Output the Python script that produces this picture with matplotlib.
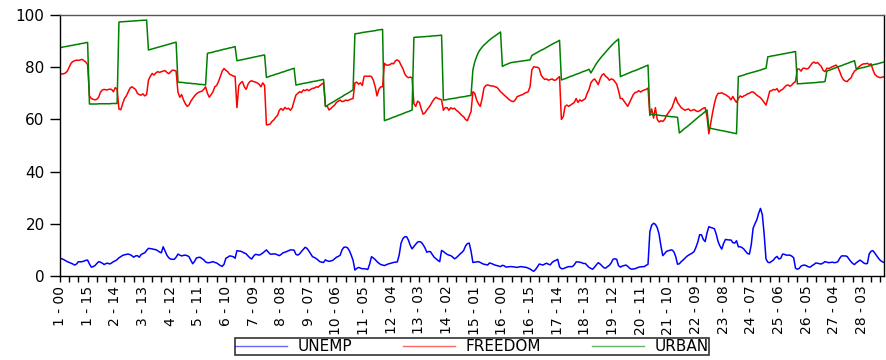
import numpy as np
import matplotlib
matplotlib.use("Agg")
from matplotlib import pyplot as plt

# panel: 28 cross sections x 16 years (00..15)
countries = list(range(1, 29))
years = ["%02d" % y for y in range(16)]

unemp = [
    [6.8, 6.6, 6.3, 5.9, 5.5, 5.2, 4.9, 4.6, 4.2, 4.6, 5.5, 5.4, 5.5, 5.7, 6.0, 6.1],
    [4.6, 3.4, 3.6, 4.0, 4.8, 5.5, 5.3, 4.9, 4.4, 4.8, 4.9, 4.6, 5.0, 5.5, 5.8, 6.3],
    [7.0, 7.4, 7.9, 8.1, 8.3, 8.4, 8.2, 7.8, 7.2, 7.7, 7.8, 7.2, 8.2, 8.6, 8.9, 9.8],
    [10.6, 10.5, 10.4, 10.2, 10.1, 9.7, 9.2, 8.9, 11.2, 9.6, 8.0, 7.0, 6.5, 6.4, 6.4, 7.2],
    [8.4, 8.0, 7.7, 7.9, 8.0, 7.8, 7.4, 6.0, 4.7, 5.6, 6.9, 7.1, 7.2, 6.7, 6.2, 5.4],
    [5.1, 5.1, 5.3, 5.5, 5.2, 5.0, 4.5, 4.0, 3.7, 4.5, 6.8, 7.2, 7.7, 7.6, 7.4, 6.8],
    [9.7, 9.6, 9.5, 9.2, 8.8, 8.5, 7.7, 7.0, 6.5, 7.6, 8.3, 8.2, 8.0, 8.3, 8.8, 9.4],
    [10.0, 9.2, 8.4, 8.4, 8.5, 8.4, 8.1, 7.8, 8.3, 8.9, 9.1, 9.4, 9.7, 10.0, 10.0, 9.9],
    [8.3, 8.0, 8.5, 9.4, 10.2, 11.0, 10.6, 9.6, 8.5, 7.4, 7.1, 6.7, 6.1, 5.5, 5.3, 5.2],
    [6.2, 5.8, 5.6, 5.8, 6.0, 6.6, 7.2, 7.5, 8.0, 10.0, 11.0, 11.1, 10.8, 9.7, 8.0, 6.0],
    [2.3, 2.9, 3.3, 3.0, 2.8, 2.8, 2.7, 2.5, 4.6, 7.4, 6.9, 6.3, 5.5, 4.9, 4.4, 4.2],
    [4.0, 4.3, 4.6, 4.8, 5.0, 5.2, 5.3, 5.4, 8.0, 12.5, 14.3, 15.0, 15.1, 13.8, 11.8, 10.4],
    [11.3, 12.2, 13.0, 13.2, 12.9, 12.0, 10.8, 9.1, 9.4, 9.3, 8.2, 7.2, 6.6, 6.0, 5.5, 9.8],
    [9.4, 8.8, 8.3, 8.0, 7.8, 7.3, 6.6, 7.0, 7.7, 8.4, 9.0, 9.8, 11.5, 12.4, 12.6, 9.5],
    [5.2, 5.3, 5.4, 5.5, 5.2, 4.8, 4.5, 4.4, 4.2, 5.0, 4.8, 4.5, 4.2, 4.0, 3.8, 3.6],
    [4.1, 3.9, 3.4, 3.5, 3.6, 3.6, 3.5, 3.4, 3.3, 3.5, 3.6, 3.5, 3.4, 3.3, 3.0, 2.7],
    [2.2, 1.8, 2.5, 3.5, 4.6, 4.4, 4.2, 4.6, 4.9, 4.5, 4.3, 5.2, 5.7, 6.0, 6.4, 3.5],
    [2.8, 2.8, 3.1, 3.4, 3.6, 3.6, 3.6, 4.3, 5.4, 5.4, 5.3, 5.1, 4.8, 4.8, 4.0, 3.3],
    [2.9, 2.6, 3.4, 4.3, 5.1, 4.6, 3.9, 3.2, 3.0, 3.6, 4.1, 5.0, 6.4, 6.6, 6.4, 4.0],
    [3.4, 3.8, 4.0, 4.2, 3.7, 3.0, 2.6, 2.7, 2.8, 3.1, 3.4, 3.5, 3.6, 3.6, 4.1, 4.5],
    [17.0, 19.5, 20.2, 19.8, 18.5, 16.0, 11.5, 7.8, 8.6, 9.4, 9.7, 9.9, 10.0, 9.3, 7.5, 4.5],
    [4.7, 5.5, 6.1, 6.8, 7.5, 8.0, 8.4, 8.8, 9.4, 11.0, 13.0, 15.8, 15.8, 14.0, 13.2, 16.5],
    [18.9, 18.6, 18.4, 18.1, 16.0, 13.2, 11.5, 10.3, 12.5, 14.0, 13.9, 13.8, 13.8, 12.8, 12.6, 13.5],
    [11.2, 11.2, 10.9, 10.3, 9.4, 8.6, 8.4, 12.0, 18.3, 20.0, 21.5, 24.0, 25.9, 23.5, 16.0, 6.5],
    [5.3, 5.1, 5.6, 6.1, 7.0, 7.5, 6.5, 6.8, 8.4, 8.3, 8.0, 8.0, 8.0, 7.6, 7.0, 3.0],
    [2.6, 2.9, 3.8, 4.1, 4.2, 3.9, 3.5, 3.4, 4.0, 4.4, 5.0, 4.9, 4.7, 4.6, 5.0, 5.5],
    [5.3, 5.1, 5.2, 5.3, 5.1, 5.2, 5.5, 6.8, 7.7, 7.7, 7.7, 7.5, 6.5, 5.6, 4.8, 4.4],
    [5.1, 5.6, 6.1, 5.6, 5.0, 4.7, 4.8, 8.5, 9.5, 9.7, 8.8, 7.8, 6.8, 6.0, 5.5, 5.2],
]

freedom = [
    [77.3, 77.4, 77.5, 77.8, 78.5, 80.0, 81.5, 82.2, 82.5, 82.7, 82.6, 82.8, 83.0, 82.5, 82.0, 81.0],
    [69.0, 68.0, 67.7, 67.5, 67.7, 68.5, 70.5, 71.3, 71.5, 71.3, 71.4, 71.6, 71.5, 70.6, 72.2, 71.5],
    [64.0, 63.7, 66.0, 68.0, 69.0, 70.5, 72.0, 72.5, 72.0, 71.5, 70.0, 69.5, 69.3, 69.8, 69.0, 69.5],
    [75.0, 76.5, 77.6, 77.0, 77.8, 78.3, 78.0, 78.3, 78.5, 78.7, 78.0, 77.5, 78.2, 78.9, 78.8, 78.5],
    [70.5, 68.5, 69.5, 67.5, 66.0, 65.0, 65.5, 67.0, 68.0, 69.0, 69.8, 70.3, 70.6, 70.8, 71.5, 72.5],
    [70.0, 68.5, 69.5, 70.6, 72.5, 73.0, 74.5, 76.4, 78.5, 79.5, 78.8, 78.3, 77.3, 77.0, 76.6, 76.5],
    [64.5, 73.0, 74.0, 74.5, 72.5, 71.5, 73.5, 74.5, 74.8, 74.5, 74.3, 74.0, 73.5, 72.5, 74.0, 73.0],
    [57.9, 58.0, 58.2, 59.2, 59.8, 60.8, 61.5, 63.5, 64.2, 63.5, 64.6, 64.0, 64.3, 63.5, 64.5, 67.0],
    [69.3, 70.0, 70.6, 70.3, 71.3, 71.0, 71.5, 71.0, 71.5, 71.9, 72.0, 72.5, 72.3, 73.0, 73.5, 74.0],
    [65.3, 65.0, 63.6, 64.2, 64.9, 65.5, 66.5, 67.0, 67.4, 66.8, 67.0, 67.4, 67.2, 67.5, 67.8, 68.0],
    [74.0, 74.3, 73.5, 74.0, 73.0, 76.5, 76.6, 76.5, 76.6, 76.4, 75.0, 72.5, 69.0, 71.5, 72.5, 72.5],
    [81.5, 80.8, 80.8, 81.0, 81.5, 81.3, 82.5, 82.8, 82.3, 80.8, 79.5, 77.5, 76.5, 76.0, 76.2, 76.0],
    [66.0, 65.0, 67.0, 66.5, 64.0, 62.0, 62.5, 63.6, 64.5, 65.5, 66.8, 67.8, 68.5, 68.0, 67.8, 67.5],
    [63.5, 64.5, 64.5, 63.5, 64.5, 64.0, 64.3, 63.5, 63.0, 62.3, 61.5, 61.0, 60.0, 59.5, 61.3, 63.0],
    [70.6, 70.0, 67.5, 66.0, 65.0, 68.0, 72.0, 73.0, 73.2, 73.0, 72.8, 72.8, 72.5, 72.3, 71.5, 70.6],
    [70.0, 69.3, 68.7, 68.0, 67.4, 67.0, 66.8, 67.5, 68.7, 69.0, 69.3, 69.5, 70.0, 70.3, 70.6, 72.5],
    [79.0, 80.2, 80.0, 80.0, 79.5, 77.0, 76.0, 75.3, 75.5, 75.0, 75.3, 75.5, 75.0, 75.1, 75.8, 76.4],
    [60.0, 61.0, 65.0, 65.5, 65.0, 65.5, 66.0, 66.5, 68.0, 66.5, 67.5, 67.0, 67.5, 68.0, 70.0, 71.5],
    [74.0, 75.0, 75.5, 74.5, 73.3, 75.5, 77.0, 77.5, 76.5, 76.0, 75.0, 75.5, 75.3, 74.5, 73.5, 71.0],
    [68.0, 68.0, 67.0, 66.0, 65.0, 66.5, 68.0, 69.5, 70.3, 70.5, 71.0, 70.5, 71.0, 71.3, 71.5, 72.0],
    [61.5, 64.0, 60.5, 64.5, 60.0, 59.0, 59.5, 59.2, 60.0, 61.5, 62.5, 63.5, 64.5, 66.5, 68.5, 66.5],
    [65.5, 64.5, 64.0, 63.5, 63.8, 64.0, 63.3, 63.5, 63.8, 63.3, 63.0, 63.3, 63.8, 64.3, 64.5, 61.0],
    [54.5, 58.5, 62.5, 66.0, 68.7, 70.0, 70.0, 70.2, 69.8, 69.5, 69.0, 68.5, 67.5, 68.8, 67.5, 66.5],
    [68.0, 69.0, 68.5, 69.0, 69.3, 69.8, 70.0, 70.5, 70.5, 70.0, 69.3, 68.8, 68.3, 67.5, 66.5, 65.5],
    [68.0, 70.8, 71.0, 71.5, 71.3, 71.8, 70.5, 71.2, 71.5, 72.3, 73.0, 73.2, 72.7, 73.2, 74.0, 74.5],
    [79.3, 79.3, 78.5, 79.6, 79.6, 79.3, 79.6, 80.5, 81.5, 82.0, 81.5, 81.8, 81.0, 80.3, 78.8, 78.3],
    [79.6, 79.5, 79.8, 80.2, 80.5, 80.8, 80.0, 78.3, 76.4, 75.2, 74.7, 74.5, 75.3, 75.8, 77.3, 78.5],
    [79.0, 79.9, 80.5, 81.0, 81.3, 81.3, 81.5, 81.0, 81.3, 79.0, 77.3, 76.6, 76.2, 76.0, 76.2, 76.3],
]

urban = [
    [87.5, 87.6, 87.8, 87.9, 88.0, 88.2, 88.3, 88.4, 88.6, 88.7, 88.8, 89.0, 89.1, 89.2, 89.4, 89.5],
    [65.9, 65.9, 65.9, 65.9, 65.9, 66.0, 66.0, 66.0, 66.0, 66.0, 66.0, 66.0, 66.1, 66.1, 66.1, 66.1],
    [97.3, 97.4, 97.4, 97.5, 97.5, 97.6, 97.6, 97.7, 97.7, 97.8, 97.8, 97.9, 97.9, 98.0, 98.0, 98.1],
    [86.6, 86.8, 87.0, 87.2, 87.4, 87.6, 87.8, 88.0, 88.2, 88.4, 88.6, 88.8, 89.0, 89.2, 89.4, 89.6],
    [74.3, 74.2, 74.2, 74.1, 74.0, 73.9, 73.9, 73.8, 73.7, 73.7, 73.6, 73.5, 73.4, 73.4, 73.3, 73.2],
    [85.3, 85.5, 85.6, 85.8, 86.0, 86.2, 86.3, 86.5, 86.7, 86.9, 87.0, 87.2, 87.4, 87.5, 87.7, 87.9],
    [82.5, 82.6, 82.8, 82.9, 83.1, 83.2, 83.4, 83.5, 83.7, 83.8, 84.0, 84.1, 84.3, 84.4, 84.6, 84.7],
    [76.1, 76.3, 76.6, 76.8, 77.0, 77.3, 77.5, 77.7, 78.0, 78.2, 78.4, 78.7, 78.9, 79.1, 79.4, 79.6],
    [73.2, 73.3, 73.5, 73.6, 73.8, 73.9, 74.0, 74.2, 74.3, 74.5, 74.6, 74.7, 74.9, 75.0, 75.2, 75.3],
    [64.9, 65.3, 65.8, 66.2, 66.6, 67.0, 67.5, 67.9, 68.3, 68.7, 69.2, 69.6, 70.0, 70.4, 70.9, 71.3],
    [92.8, 92.9, 93.0, 93.1, 93.3, 93.4, 93.5, 93.6, 93.7, 93.8, 93.9, 94.0, 94.2, 94.3, 94.4, 94.5],
    [59.5, 59.8, 60.0, 60.3, 60.6, 60.9, 61.1, 61.4, 61.7, 61.9, 62.2, 62.5, 62.8, 63.0, 63.3, 63.6],
    [91.4, 91.5, 91.5, 91.6, 91.6, 91.7, 91.7, 91.8, 91.8, 91.9, 92.0, 92.0, 92.1, 92.1, 92.2, 92.3],
    [67.4, 67.5, 67.6, 67.8, 67.9, 68.0, 68.1, 68.2, 68.4, 68.5, 68.6, 68.7, 68.8, 69.0, 69.1, 69.2],
    [79.0, 82.0, 84.0, 85.7, 86.8, 87.7, 88.5, 89.1, 89.8, 90.4, 91.0, 91.5, 92.0, 92.5, 93.0, 93.5],
    [80.3, 80.7, 81.0, 81.3, 81.6, 81.8, 81.9, 82.0, 82.1, 82.2, 82.3, 82.4, 82.5, 82.6, 82.7, 82.8],
    [84.5, 84.9, 85.3, 85.7, 86.1, 86.5, 86.8, 87.2, 87.6, 88.0, 88.4, 88.8, 89.2, 89.5, 89.9, 90.3],
    [75.1, 75.4, 75.6, 75.9, 76.2, 76.5, 76.7, 77.0, 77.3, 77.5, 77.8, 78.1, 78.4, 78.6, 78.9, 79.2],
    [77.8, 79.0, 80.2, 81.4, 82.4, 83.3, 84.2, 85.0, 85.8, 86.6, 87.4, 88.2, 88.9, 89.6, 90.2, 90.8],
    [76.4, 76.7, 77.0, 77.3, 77.6, 77.9, 78.2, 78.5, 78.7, 79.0, 79.3, 79.6, 79.9, 80.2, 80.5, 80.8],
    [62.0, 61.9, 61.8, 61.8, 61.7, 61.6, 61.5, 61.4, 61.4, 61.3, 61.2, 61.1, 61.0, 61.0, 60.9, 60.8],
    [54.8, 55.4, 56.0, 56.6, 57.1, 57.7, 58.3, 58.9, 59.5, 60.1, 60.7, 61.3, 61.8, 62.4, 63.0, 63.6],
    [56.7, 56.6, 56.4, 56.3, 56.1, 56.0, 55.8, 55.7, 55.6, 55.4, 55.3, 55.1, 55.0, 54.8, 54.7, 54.5],
    [76.4, 76.6, 76.8, 77.0, 77.3, 77.5, 77.7, 77.9, 78.1, 78.3, 78.5, 78.7, 78.9, 79.2, 79.4, 79.6],
    [84.0, 84.1, 84.3, 84.4, 84.5, 84.7, 84.8, 84.9, 85.1, 85.2, 85.3, 85.5, 85.6, 85.7, 85.9, 86.0],
    [73.6, 73.7, 73.7, 73.8, 73.8, 73.9, 73.9, 74.0, 74.0, 74.1, 74.1, 74.2, 74.3, 74.3, 74.4, 74.5],
    [78.5, 78.8, 79.0, 79.3, 79.6, 79.8, 80.1, 80.4, 80.6, 80.9, 81.2, 81.4, 81.7, 82.0, 82.2, 82.5],
    [79.2, 79.4, 79.6, 79.8, 79.9, 80.1, 80.3, 80.5, 80.7, 80.9, 81.1, 81.2, 81.4, 81.6, 81.8, 82.0],
]

u = np.array(unemp).ravel()
f = np.array(freedom).ravel()
r = np.array(urban).ravel()
n = len(u)
x = np.arange(n)

# "1 - 00", "1 - 01", ... obs labels
obs_labels = ["%d - %s" % (c, yy) for c in countries for yy in years]

fig = plt.figure(figsize=(8.87, 3.6), dpi=100)
ax = fig.add_axes([0.0676, 0.2333, 0.9290, 0.7250])

l1, = ax.plot(x, u, color="#0000ff", lw=1.1)
l2, = ax.plot(x, f, color="#ff0000", lw=1.1)
l3, = ax.plot(x, r, color="#008000", lw=1.1)

ax.set_xlim(0, n - 1)
ax.set_ylim(0, 100)
ax.set_yticks([0, 20, 40, 60, 80, 100])
ax.tick_params(axis="y", length=7, width=1, pad=4, labelsize=11)

ticks = list(range(0, n, 5))
ax.set_xticks(ticks)
ax.set_xticklabels([obs_labels[t] if t % 15 == 0 else "" for t in ticks],
                   rotation=90, fontsize=10)
ax.tick_params(axis="x", length=4, width=1, pad=3)

for s in ax.spines.values():
    s.set_linewidth(1.0)
    s.set_color("black")
ax.spines["top"].set_color("#555555")

leg = fig.legend([l1, l2, l3], ["UNEMP", "FREEDOM", "URBAN"],
                 loc="upper center", bbox_to_anchor=(0.532, 0.06), ncol=3,
                 fontsize=11, frameon=True, fancybox=False, edgecolor="black",
                 handlelength=3.4, handletextpad=0.7, columnspacing=3.3,
                 borderpad=0.05, borderaxespad=0)
leg.get_frame().set_linewidth(1.2)
for h in leg.legend_handles:
    h.set_linewidth(1.0)
    h.set_alpha(0.6)

fig.savefig("out.png", dpi=100)
